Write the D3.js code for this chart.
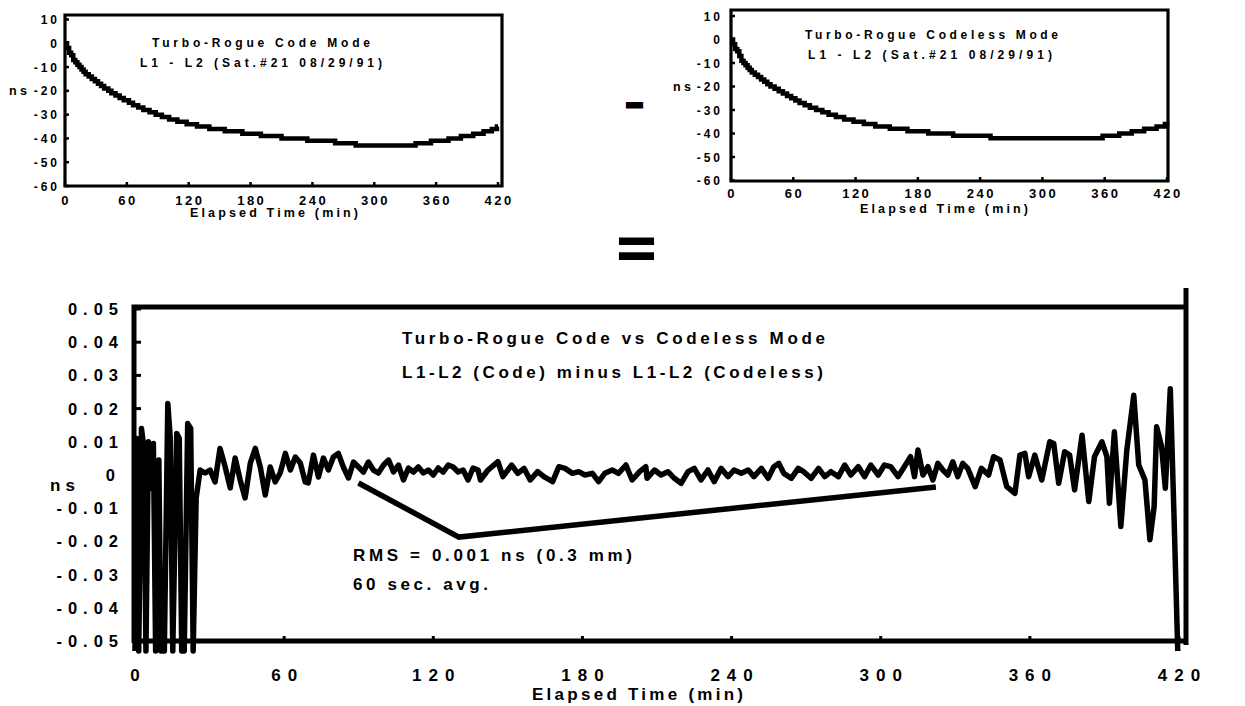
<!DOCTYPE html>
<html>
<head>
<meta charset="utf-8">
<script src="https://cdn.jsdelivr.net/npm/d3@7"></script>
<style>
body { margin: 0; background: #fff; }
svg { display: block; }
text { font-family: "Liberation Sans", Arial, Helvetica, sans-serif; font-weight: bold; fill: #000; }
</style>
</head>
<body>
<svg id="chart" width="1245" height="706"></svg>
<script>
// values

var timeTicks = [0, 60, 120, 180, 240, 300, 360, 420];
var nsTicks = [10, 0, -10, -20, -30, -40, -50, -60];
var diffTicks = [0.05, 0.04, 0.03, 0.02, 0.01, 0, -0.01, -0.02, -0.03, -0.04, -0.05];
var diffTickLabels = ["0.05", "0.04", "0.03", "0.02", "0.01", "0", "-0.01", "-0.02", "-0.03", "-0.04", "-0.05"];

// L1-L2, code mode (min, ns)
var codeMode = [[0,0],[2,-2],[4,-4],[6,-5],[8,-7],[10,-8],[12,-9],[14,-10],[16,-11],[18,-12],[20,-13],
	[23,-14],[26,-15],[29,-16],[32,-17],[35,-18],[38,-19],[42,-20],[45,-21],[49,-22],[53,-23],[57,-24],
	[62,-25],[66,-26],[71,-27],[76,-28],[82,-29],[88,-30],[94,-31],[101,-32],[109,-33],[118,-34],[128,-35],
	[140,-36],[155,-37],[172,-38],[190,-39],[210,-40],[235,-41],[262,-42],[282,-43],[340,-42],[355,-41],
	[372,-40],[384,-39],[396,-38],[406,-37],[414,-36],[419,-35],[420,-35]];

// L1-L2, codeless mode (min, ns)
var codelessMode = [[0,0],[2,-2],[4,-4],[6,-5],[8,-7],[10,-9],[12,-10],[14,-11],[16,-12],[18,-13],[20,-14],
	[23,-15],[26,-16],[29,-17],[32,-18],[35,-19],[38,-20],[42,-21],[46,-22],[50,-23],[54,-24],[58,-25],
	[62,-26],[66,-27],[71,-28],[76,-29],[82,-30],[88,-31],[94,-32],[101,-33],[109,-34],[118,-35],[128,-36],
	[139,-37],[153,-38],[170,-39],[190,-40],[214,-41],[250,-42],[358,-41],[374,-40],[386,-39],[398,-38],
	[410,-37],[418,-36],[420,-35]];

// code minus codeless, 60 sec avg (min, ns)
var codeMinusCodeless = [[0,-0.053],[0.6,0.011],[1.5,-0.053],[2.6,0.014],[3.6,0.008],[4.4,-0.053],[5.4,0.010],
	[6.4,-0.004],[7.4,0.0095],[8.3,-0.053],[9.6,0.0045],[10.4,-0.053],[11.8,-0.053],[13.2,0.0215],[14.2,0.011],
	[15.2,-0.053],[16.8,0.0125],[17.8,0.011],[18.8,-0.053],[19.8,-0.053],[21.2,0.0155],[22.4,0.014],[23.4,-0.053],
	[24.6,-0.007],[26.2,0.0015],[28.2,0.0006],[30.2,0.0015],[32.2,-0.0021],[34.2,0.008],[36.3,0.0024],[38.3,-0.0039],
	[40.3,0.0051],[42.3,-0.0015],[44.3,-0.0069],[46.4,0.0036],[48.4,0.008],[50.4,0.0024],[52.4,-0.006],[54.4,0.0024],
	[56.4,-0.0021],[58.4,0.0006],[60.5,0.0065],[62.5,0.0015],[64.5,0.0054],[66.5,0.0036],[68.5,-0.0021],[69.7,-0.0024],
	[71.8,0.006],[73.8,-0.0006],[75.8,0.0051],[77.8,0.0015],[79.8,0.0054],[81.8,0.0065],[83.8,0.0024],[85.9,-0.0009],
	[87.9,0.0039],[89.9,0.0024],[91.9,0.0009],[93.9,0.0039],[95.9,0.0015],[97.9,0.0006],[100,0.003],[102,0.0045],
	[104,0.0009],[106,0.003],[108,-0.0015],[110,0.0021],[112,0.0009],[114,0.0024],[116,0.0006],[118,0.0015],[120,0],
	[122,0.0021],[124,0.0009],[126,0.003],[128,0.0024],[130,0.0009],[132,0.0015],[134,-0.0015],[136,0.0021],[138,0.0015],
	[139,-0.0015],[142,0.0015],[146,0.004],[148,-0.0005],[151.5,0.003],[154,0.0005],[156.5,0.002],[159,-0.0015],
	[162,0.001],[164.5,-0.0005],[168,-0.002],[170.5,0.0025],[173,0.002],[176,0.0005],[178.5,0.001],[181,0],
	[184,0.0005],[186.5,-0.002],[189,0.0005],[192,0.0015],[194.5,0.0005],[197.5,0.003],[200,-0.0015],[203,0.001],
	[205.5,0.0025],[206,-0.001],[209,0.0015],[211.6,0],[214.4,0.001],[217,-0.001],[219.7,-0.0025],[222.5,0.001],
	[225,0.002],[227.7,-0.0015],[230.5,0.0015],[233,-0.002],[235.8,0.002],[238.6,-0.0005],[241,0.0015],[243.9,0.0005],
	[246.7,0.0015],[249,-0.0005],[252,0.002],[254.7,-0.001],[257,0.0025],[259,0.0035],[261,0.0005],[264,-0.001],
	[266.8,0.002],[269,0.001],[272,-0.001],[275,0.002],[277.5,-0.0005],[280,0.001],[283,-0.0005],[285.5,0.003],
	[288,0],[291,0.0025],[293.5,-0.0005],[296,0.003],[299,0],[301.5,0.003],[304,0.0025],[307,-0.0005],[309.5,0.0025],
	[312,0.0055],[313.6,-0.0005],[315,0.0075],[317,0],[319,0.0025],[321,-0.0015],[323,0.0035],[325,0.0015],[327,0],
	[329,0.004],[331,-0.0005],[333,0.0035],[335,0.002],[338,-0.0035],[340.5,0.002],[343.4,0],[345.4,0.0055],
	[348,0.0045],[350.7,-0.0035],[354,-0.0055],[356,0.006],[358,0.0065],[359.5,-0.0005],[362,0.006],[364.8,-0.0015],
	[368,0.010],[369.6,0.0095],[371.6,-0.0025],[374,0.007],[376,0.006],[378,-0.0045],[381,0.012],[383.7,-0.008],
	[386,0.0055],[389,0.010],[391,0.0055],[392,-0.0085],[394,0.013],[396.6,-0.0155],[399,0.0075],[401.8,0.024],
	[403.8,0.003],[406.3,-0.0015],[408.3,-0.0195],[410,-0.0095],[411,0.0145],[413,0.0085],[414.5,-0.004],
	[416.5,0.026],[418,-0.0125],[419.5,-0.053]];

// pointer from the RMS note to the trace (min, ns)
var rmsPointer = [[89.9,-0.0024],[130.3,-0.0187],[322.2,-0.0036]];

var svg = d3.select("#chart");

drawSmallPanel({
	box: {l: 65, t: 15, r: 502, b: 186},
	xRange: [65, 498], yRange: [186, 19.5],
	data: codeMode,
	yLabelX: 60, xLabelY: 205,
	titles: [{text: "Turbo-Rogue  Code  Mode", x: 152, y: 47, len: 218},
		{text: "L1  -  L2  (Sat.#21  08/29/91)", x: 140, y: 67, len: 242}],
	axisTitle: {x: 190, y: 217, len: 168},
	ns: {x: 9, y: 95}
});

drawSmallPanel({
	box: {l: 731, t: 10, r: 1168, b: 181},
	xRange: [731, 1167], yRange: [180.5, 16],
	data: codelessMode,
	yLabelX: 723, xLabelY: 198,
	titles: [{text: "Turbo-Rogue  Codeless  Mode", x: 805, y: 39, len: 253},
		{text: "L1  -  L2  (Sat.#21  08/29/91)", x: 808, y: 59, len: 244}],
	axisTitle: {x: 860, y: 213, len: 168},
	ns: {x: 673, y: 91}
});

drawOperators();
drawDiffPanel();

function drawSmallPanel(o) {
	var g = svg.append("g");
	var x = d3.scaleLinear().domain([0, 420]).range(o.xRange);
	var y = d3.scaleLinear().domain([-60, 10]).range(o.yRange);

	// left ticks point inward, bottom ticks point up
	g.selectAll(".yt").data(nsTicks).enter().append("line")
		.attr("x1", o.box.l).attr("x2", o.box.l + 4)
		.attr("y1", function(d) { return y(d); }).attr("y2", function(d) { return y(d); })
		.style("stroke", "#000").style("stroke-width", 2.5);
	g.selectAll(".xt").data(timeTicks).enter().append("line")
		.attr("x1", function(d) { return x(d); }).attr("x2", function(d) { return x(d); })
		.attr("y1", o.box.b).attr("y2", o.box.b - 4)
		.style("stroke", "#000").style("stroke-width", 2.5);

	g.append("path")
		.attr("d", "M" + o.box.r + "," + o.box.b + "H" + o.box.l + "V" + o.box.t + "H" + o.box.r + "Z")
		.style("fill", "none").style("stroke", "#000").style("stroke-width", 3.2);

	var line = d3.line()
		.x(function(d) { return x(d[0]); })
		.y(function(d) { return y(d[1]); })
		.curve(d3.curveStepAfter);
	g.append("path").datum(o.data).attr("d", line)
		.style("fill", "none").style("stroke", "#000").style("stroke-width", 4.5);

	g.selectAll(".yl").data(nsTicks).enter().append("text")
		.attr("x", o.yLabelX).attr("y", function(d) { return y(d) + 4.5; })
		.attr("text-anchor", "end")
		.style("font-size", "12px").style("letter-spacing", "3px")
		.text(function(d) { return d; });
	g.selectAll(".xl").data(timeTicks).enter().append("text")
		.attr("x", function(d) { return x(d) + 1.2; }).attr("y", o.xLabelY)
		.attr("text-anchor", "middle")
		.style("font-size", "13px").style("letter-spacing", "2.5px")
		.text(function(d) { return d; });

	o.titles.forEach(function(t) {
		g.append("text").attr("x", t.x).attr("y", t.y)
			.attr("textLength", t.len).attr("lengthAdjust", "spacing")
			.style("font-size", "12px").text(t.text);
	});
	g.append("text").attr("x", o.axisTitle.x).attr("y", o.axisTitle.y)
		.attr("textLength", o.axisTitle.len).attr("lengthAdjust", "spacing")
		.style("font-size", "12.5px").text("Elapsed  Time  (min)");
	g.append("text").attr("x", o.ns.x).attr("y", o.ns.y)
		.attr("textLength", 18).attr("lengthAdjust", "spacing")
		.style("font-size", "12.5px").text("ns");
}

function drawOperators() {
	svg.append("text").attr("x", 623).attr("y", 123)
		.attr("textLength", 23).attr("lengthAdjust", "spacingAndGlyphs")
		.style("font-family", "DejaVu Sans").style("font-size", "56px")
		.text("\u2212");
	svg.append("text").attr("x", 613).attr("y", 270)
		.attr("textLength", 47).attr("lengthAdjust", "spacingAndGlyphs")
		.style("font-family", "DejaVu Sans").style("font-size", "66px")
		.text("=");
}

function drawDiffPanel() {
	var g = svg.append("g");
	var box = {l: 134, t: 307, r: 1186, b: 641};
	var x = d3.scaleLinear().domain([0, 420]).range([135, 1179]);
	var y = d3.scaleLinear().domain([-0.05, 0.05]).range([641, 309]);

	g.selectAll(".yt").data(diffTicks).enter().append("line")
		.attr("x1", box.l).attr("x2", box.l + 7)
		.attr("y1", function(d) { return y(d); }).attr("y2", function(d) { return y(d); })
		.style("stroke", "#000").style("stroke-width", 3);
	g.selectAll(".xt").data(timeTicks).enter().append("line")
		.attr("x1", function(d) { return x(d); }).attr("x2", function(d) { return x(d); })
		.attr("y1", box.b).attr("y2", box.b - 5)
		.style("stroke", "#000").style("stroke-width", 3);

	g.append("path")
		.attr("d", "M" + box.l + "," + box.b + "H" + box.r + "M" + box.l + "," + (box.b + 2) + "V" + box.t + "H" + box.r)
		.style("fill", "none").style("stroke", "#000").style("stroke-width", 5);
	g.append("line")
		.attr("x1", box.r).attr("x2", box.r).attr("y1", 288).attr("y2", 645)
		.style("stroke", "#000").style("stroke-width", 5);

	var line = d3.line()
		.x(function(d) { return x(d[0]); })
		.y(function(d) { return y(d[1]); });
	g.append("path").datum(codeMinusCodeless).attr("d", line)
		.style("fill", "none").style("stroke", "#000").style("stroke-width", 5.5)
		.style("stroke-linejoin", "round");

	g.append("path").datum(rmsPointer).attr("d", line)
		.style("fill", "none").style("stroke", "#000").style("stroke-width", 5.5);

	g.selectAll(".yl").data(diffTicks).enter().append("text")
		.attr("x", function(d) { return d == 0 ? 121 : 124; })
		.attr("y", function(d) { return y(d) + 6; })
		.attr("text-anchor", "end")
		.style("font-size", "16.5px").style("letter-spacing", "6px")
		.text(function(d, i) { return diffTickLabels[i]; });
	g.selectAll(".xl").data(timeTicks).enter().append("text")
		.attr("x", function(d) { return x(d) + 3.5; }).attr("y", 681)
		.attr("text-anchor", "middle")
		.style("font-size", "17px").style("letter-spacing", "7px")
		.text(function(d) { return d; });

	var texts = [
		{text: "Turbo-Rogue  Code  vs  Codeless  Mode", x: 402, y: 344, len: 423},
		{text: "L1-L2  (Code)  minus  L1-L2  (Codeless)", x: 402, y: 378, len: 421},
		{text: "RMS  =  0.001  ns  (0.3  mm)", x: 353, y: 561, len: 279},
		{text: "60  sec.  avg.", x: 353, y: 590, len: 135},
		{text: "Elapsed  Time  (min)", x: 532, y: 700, len: 211},
		{text: "ns", x: 50, y: 491, len: 25}
	];
	g.selectAll(".lbl").data(texts).enter().append("text")
		.attr("x", function(d) { return d.x; }).attr("y", function(d) { return d.y; })
		.attr("textLength", function(d) { return d.len; }).attr("lengthAdjust", "spacing")
		.style("font-size", "17px")
		.text(function(d) { return d.text; });
}
</script>
</body>
</html>
